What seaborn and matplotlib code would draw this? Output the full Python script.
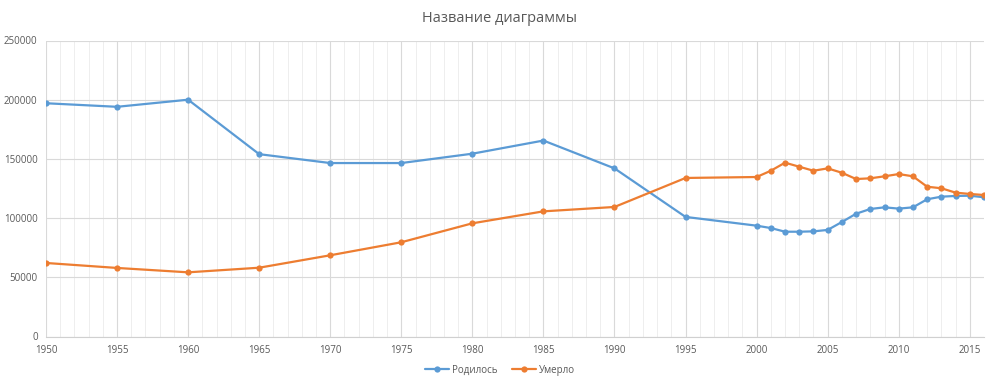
import pandas as pd
import matplotlib
matplotlib.use("Agg")
import matplotlib.pyplot as plt
from matplotlib.ticker import MultipleLocator
import seaborn as sns

# --- data ---
years = [1950, 1955, 1960, 1965, 1970, 1975, 1980, 1985, 1990, 1995,
         2000, 2001, 2002, 2003, 2004, 2005, 2006, 2007, 2008, 2009,
         2010, 2011, 2012, 2013, 2014, 2015, 2016]
born = [197000, 194000, 200000, 154000, 146500, 146500, 154400, 165500, 142000, 101000,
        93600, 91600, 88500, 88500, 88800, 90000, 96700, 103700, 107700, 109100,
        108000, 109100, 115900, 118100, 118700, 118900, 117600]
died = [62100, 57900, 54200, 58100, 68600, 79600, 95600, 105700, 109400, 133900,
        134700, 140000, 146800, 143400, 140000, 142000, 138300, 133000, 133600, 135300,
        137200, 135300, 126500, 125200, 121500, 120400, 119500]
series_names = ["Родилось", "Умерло"]
colors = ["#5B9BD5", "#ED7D31"]

df = pd.concat([
    pd.DataFrame({"year": years, "value": born, "series": series_names[0]}),
    pd.DataFrame({"year": years, "value": died, "series": series_names[1]}),
])

sns.set_style("white")
plt.rcParams["font.family"] = ["Open Sans", "DejaVu Sans"]

fig = plt.figure(figsize=(10, 3.84), dpi=100)
ax = fig.add_axes([0.046, 1 - 336.5 / 384, 0.938, (336.5 - 40.5) / 384])

sns.lineplot(data=df, x="year", y="value", hue="series", palette=colors,
             marker="o", markersize=4.5, markeredgewidth=0, linewidth=1.6,
             ax=ax, legend=False)

ax.set_xlim(1950, 2016)
ax.set_ylim(0, 250000)
ax.xaxis.set_major_locator(MultipleLocator(5))
ax.xaxis.set_minor_locator(MultipleLocator(1))
ax.yaxis.set_major_locator(MultipleLocator(50000))
ax.grid(True, which="major", color="#D9D9D9", linewidth=0.8)
ax.grid(True, which="minor", axis="x", color="#EEEEEE", linewidth=0.7)
ax.set_axisbelow(True)

for side in ["top", "right", "left"]:
    ax.spines[side].set_visible(False)
ax.spines["bottom"].set_color("#D0D0D0")
ax.tick_params(which="both", length=0, labelsize=7, labelcolor="#595959")
ax.tick_params(axis="x", pad=6)
ax.tick_params(axis="y", pad=6)
ax.set_xlabel("")
ax.set_ylabel("")

fig.text(0.5, 1 - 19 / 384, "Название диаграммы", ha="center", va="center",
         fontsize=10.5, color="#595959")

handles = [plt.Line2D([], [], color=c, marker="o", markersize=4.5,
                      markeredgewidth=0, linewidth=1.6) for c in colors]
fig.legend(handles, series_names, loc="center", bbox_to_anchor=(0.5, 1 - 370 / 384),
           ncol=2, frameon=False, fontsize=7, labelcolor="#595959",
           handlelength=2.5, handletextpad=0.3, columnspacing=1.5)

fig.savefig("out.png", dpi=100, facecolor="white")
